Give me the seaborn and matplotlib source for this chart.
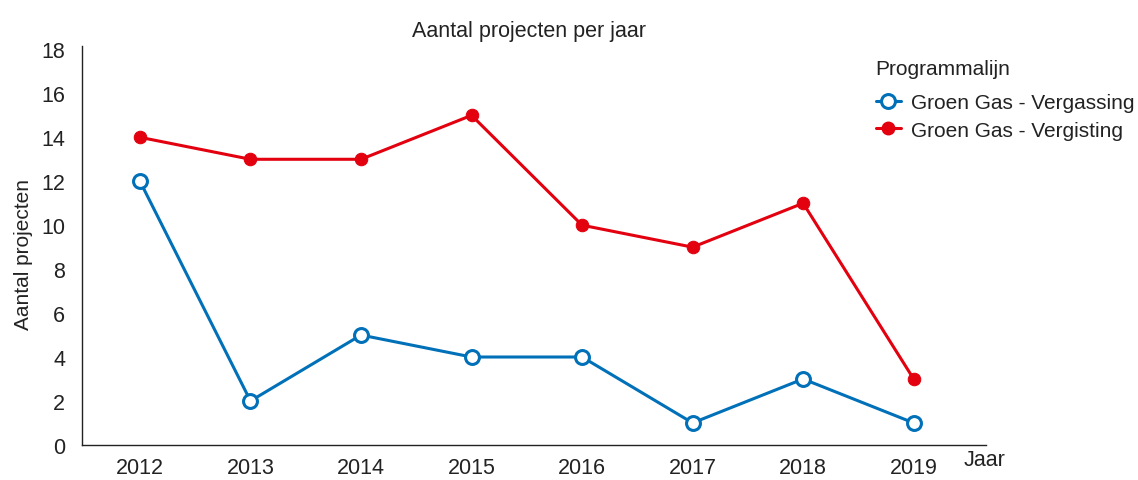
import pandas as pd
import numpy as np
import seaborn as sns
import matplotlib.pyplot as plt
from matplotlib.lines import Line2D

# data
jaren = [2012, 2013, 2014, 2015, 2016, 2017, 2018, 2019]
vergassing = [12, 2, 5, 4, 4, 1, 3, 1]
vergisting = [14, 13, 13, 15, 10, 9, 11, 3]
reeksen = ['Groen Gas - Vergassing', 'Groen Gas - Vergisting']
kleuren = {'Groen Gas - Vergassing': '#0070b8', 'Groen Gas - Vergisting': '#e3000f'}

df = pd.DataFrame({
    'Jaar': jaren * 2,
    'Aantal': vergassing + vergisting,
    'Programmalijn': [reeksen[0]] * len(jaren) + [reeksen[1]] * len(jaren),
})

sns.set_style('white')
plt.rcParams['font.family'] = ['Liberation Sans', 'DejaVu Sans']
tekst = '#222222'

fig = plt.figure(figsize=(11.38, 4.81), dpi=100)
ax = fig.add_axes([0.072, 0.073, 0.794, 0.829])

sns.lineplot(data=df, x='Jaar', y='Aantal', hue='Programmalijn', palette=kleuren,
             style='Programmalijn', markers={reeksen[0]: 'o', reeksen[1]: 'o'},
             dashes=False, linewidth=2.2, markersize=10, legend=False, ax=ax)

# open markers for Vergassing, filled for Vergisting
lijnen = ax.get_lines()
lijnen[0].set_markerfacecolor('white')
lijnen[0].set_markeredgecolor(kleuren[reeksen[0]])
lijnen[0].set_markeredgewidth(2.2)
lijnen[1].set_markerfacecolor(kleuren[reeksen[1]])
lijnen[1].set_markeredgecolor(kleuren[reeksen[1]])
lijnen[1].set_markersize(9)

ax.set_xlim(2011.475, 2019.65)
ax.set_ylim(0, 18.15)
ax.set_xticks(jaren)
ax.set_yticks(np.arange(0, 19, 2))
ax.tick_params(axis='x', length=0, labelsize=15.5, colors=tekst, pad=9)
ax.tick_params(axis='y', length=0, labelsize=15.5, colors=tekst, pad=12)
sns.despine(ax=ax)
for s in ['left', 'bottom']:
    ax.spines[s].set_color(tekst)
    ax.spines[s].set_linewidth(1)

ax.set_title('Aantal projecten per jaar', fontsize=15.5, color=tekst, pad=7, x=0.495)
ax.set_ylabel('Aantal projecten', fontsize=15, color=tekst)
ax.yaxis.set_label_coords(-0.054, 0.48)
ax.set_xlabel('')
fig.text(0.847, 0.043, 'Jaar', fontsize=15.5, color=tekst, ha='left', va='center')

handles = [
    Line2D([], [], color=kleuren[reeksen[0]], lw=2.2, marker='o', markersize=10,
           markerfacecolor='white', markeredgewidth=2.2),
    Line2D([], [], color=kleuren[reeksen[1]], lw=2.2, marker='o', markersize=9),
]
leg = fig.legend(handles, reeksen, title='Programmalijn', loc='upper left',
                 bbox_to_anchor=(0.753, 0.915), frameon=False, fontsize=15,
                 title_fontsize=15, handlelength=1.2, handletextpad=0.5,
                 labelspacing=0.42)
leg._legend_box.align = 'left'
leg._legend_box.sep = 11
for t in leg.get_texts():
    t.set_color(tekst)
leg.get_title().set_color(tekst)

fig.savefig('out.png', dpi=100)
